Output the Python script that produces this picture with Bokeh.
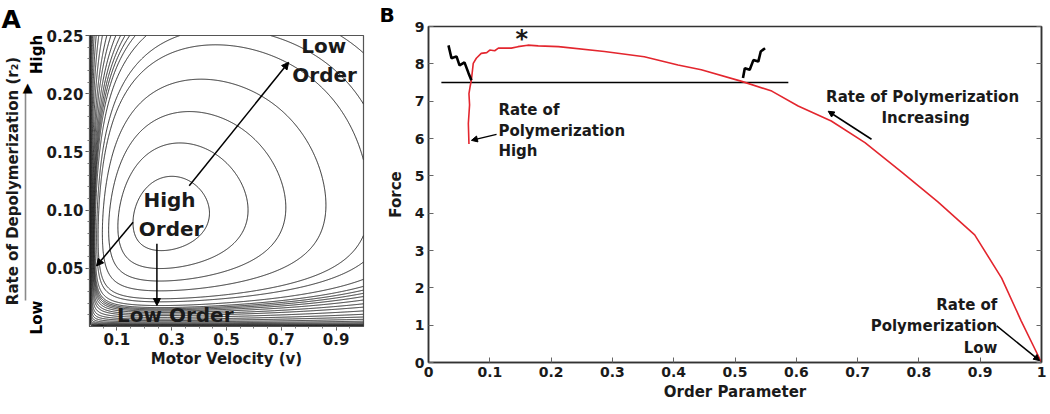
import math
import numpy as np
from bokeh.plotting import figure
from bokeh.layouts import row
from bokeh.models import (Label, Arrow, NormalHead, FixedTicker, LinearAxis,
                          PrintfTickFormatter, CustomJSTickFormatter)
from bokeh.embed import file_html
from bokeh.resources import INLINE

FONT = "DejaVu Sans"

# ---------------- Panel A data ----------------
A_XTICKS = [0.1, 0.3, 0.5, 0.7, 0.9]
A_YTICKS = [0.05, 0.10, 0.15, 0.20, 0.25]
SIDE_TICKS = [0.0077, 0.2337]
SIDE_LABELS = ["Low", "High"]
SIDE_HEAD = 0.2045
SIDE_LINE = (0.0223, 0.2046)
# order-parameter landscape (peak position, widths, wall steepness)
R_PEAK = 0.092
ALPHA_COEF = [0.32, 1.33]
VSTAR_COEF = [0.25, -0.253, 4.53]
WALL_V, WALL_R = 0.004, 0.0012
LEVELS = [-0.087, -0.195, -0.328, -0.488, -0.677, -0.771, -0.91,
          -1.0, -1.06, -1.12, -1.19, -1.28, -1.4, -1.53, -1.72,
          -1.95, -2.2, -2.5, -2.85, -3.25, -3.7, -4.2, -4.8, -5.5, -6.3]

# ---------------- Panel B data ----------------
ORDER = [0.066, 0.065, 0.067, 0.066, 0.068, 0.070, 0.073, 0.078, 0.086, 0.095,
         0.100, 0.108, 0.114, 0.135, 0.146, 0.162, 0.179, 0.212, 0.287, 0.352,
         0.407, 0.445, 0.511, 0.560, 0.603, 0.657, 0.712, 0.772, 0.831, 0.891,
         0.935, 0.967, 0.997, 1.0]
FORCE = [5.85, 6.4, 6.9, 7.2, 7.4, 7.57, 8.01, 8.15, 8.28, 8.30,
         8.37, 8.35, 8.42, 8.42, 8.46, 8.50, 8.48, 8.46, 8.33, 8.19,
         7.97, 7.84, 7.53, 7.27, 6.87, 6.47, 5.89, 5.10, 4.30, 3.42,
         2.26, 1.11, 0.10, 0.0]
HLINE_X = [0.021, 0.587]
HLINE_Y = [7.5, 7.5]
ZIG1_X = [0.0326, 0.0375, 0.0457, 0.0506, 0.0587, 0.0653, 0.070]
ZIG1_Y = [8.495, 8.15, 8.20, 7.96, 8.04, 7.75, 7.56]
ZIG2_X = [0.513, 0.516, 0.524, 0.530, 0.538, 0.542, 0.549]
ZIG2_Y = [7.62, 7.88, 7.84, 8.10, 8.06, 8.33, 8.42]
B_XTICKS = [0, 0.1, 0.2, 0.3, 0.4, 0.5, 0.6, 0.7, 0.8, 0.9, 1]
B_YTICKS = [0, 1, 2, 3, 4, 5, 6, 7, 8, 9]

TXT = "#1a1a1a"


def style_axis(ax, tick_size="15px"):
    ax.major_label_text_font = FONT
    ax.major_label_text_font_style = "bold"
    ax.major_label_text_font_size = tick_size
    ax.major_label_text_color = TXT
    ax.axis_label_text_font = FONT
    ax.axis_label_text_font_style = "bold"
    ax.axis_label_text_font_size = "15px"
    ax.axis_label_text_color = TXT


def bare_axis(ax):
    ax.major_tick_in = 0
    ax.major_tick_out = 0
    ax.minor_tick_in = 0
    ax.minor_tick_out = 0
    ax.major_tick_line_color = None
    ax.minor_tick_line_color = None


# ================= Panel A =================
pA = figure(frame_width=274, frame_height=291, x_range=(0, 1), y_range=(0, 0.25),
            output_backend="svg", toolbar_location=None, frame_align=False,
            min_border_left=88, min_border_right=10, min_border_top=35,
            min_border_bottom=86)
pA.grid.visible = False
pA.outline_line_color = "#555555"
pA.outline_line_width = 1.2
pA.title.text = "A"
pA.title.align = "left"
pA.title.offset = -88
pA.title.standoff = 3
pA.title.text_font = FONT
pA.title.text_font_size = "25px"
pA.title.text_color = "black"

v = np.concatenate([np.linspace(0.0012, 0.05, 260), np.linspace(0.0505, 1.0, 420)])
r = np.concatenate([np.linspace(0.0006, 0.03, 180), np.linspace(0.0302, 0.25, 320)])
V, R = np.meshgrid(v, r)
alpha = ALPHA_COEF[0] + ALPHA_COEF[1] * R
vstar = VSTAR_COEF[0] + VSTAR_COEF[1] * R + VSTAR_COEF[2] * R ** 2
U = V / vstar
W = R / R_PEAK
Z = (alpha * (np.log(U) - U + 1) + (np.log(W) - W + 1)
     - WALL_V / V - WALL_R / R)
pA.contour(v, r, Z, levels=sorted(LEVELS), line_color="#262626", line_width=1.0)

for ax in (pA.xaxis[0], pA.yaxis[0]):
    style_axis(ax)
    ax.axis_line_color = "#555555"
    ax.major_tick_line_color = "#555555"
    ax.minor_tick_line_color = "#777777"
    ax.major_tick_in = 0
    ax.major_tick_out = 4
    ax.minor_tick_in = 0
    ax.minor_tick_out = 2
    ax.major_label_standoff = 2

pA.xaxis[0].ticker = FixedTicker(ticks=A_XTICKS, minor_ticks=list(np.arange(0.05, 1.0, 0.05)))
pA.yaxis[0].ticker = FixedTicker(ticks=A_YTICKS, minor_ticks=list(np.arange(0.01, 0.25, 0.01)))
pA.yaxis[0].formatter = PrintfTickFormatter(format="%.2f")
pA.xaxis[0].axis_label = "Motor Velocity (v)"
pA.xaxis[0].axis_label_standoff = 2

# "Low ... High" side note (tick labels of an extra axis)
side_txt = LinearAxis(ticker=FixedTicker(ticks=SIDE_TICKS, minor_ticks=[]),
                      major_label_overrides=dict(zip(SIDE_TICKS, SIDE_LABELS)),
                      major_label_orientation="parallel")
style_axis(side_txt)
bare_axis(side_txt)
side_txt.axis_line_color = None
side_txt.major_label_standoff = -3
side_txt.major_label_text_color = "black"
pA.add_layout(side_txt, "left")

# gray arrow (bounded axis line + arrowhead glyph) and the axis title
side_line = LinearAxis(ticker=FixedTicker(ticks=[SIDE_HEAD], minor_ticks=[]),
                       major_label_overrides={SIDE_HEAD: "\u25B6"},
                       major_label_orientation="parallel", bounds=SIDE_LINE)
style_axis(side_line)
bare_axis(side_line)
side_line.axis_line_color = "#8a8a8a"
side_line.axis_line_width = 1.6
side_line.major_label_standoff = -9
side_line.major_label_text_color = "black"
side_line.major_label_text_font_size = "13px"
side_line.axis_label = "Rate of Depolymerization (r\u2082)"
side_line.axis_label_standoff = -5
pA.add_layout(side_line, "left")


def lab(p, x, y, text, size="15px", align="left", lift=8):
    p.add_layout(Label(x=x, y=y, text=text, text_font=FONT, text_font_style="bold",
                       text_font_size=size, text_align=align, y_offset=lift,
                       text_baseline="alphabetic", text_color=TXT))


def arrow(p, x0, y0, x1, y1, size=7, width=1.5):
    p.add_layout(Arrow(end=NormalHead(size=size, fill_color="black", line_color="black"),
                       x_start=x0, y_start=y0, x_end=x1, y_end=y1,
                       line_color="black", line_width=width))


lab(pA, 0.292, 0.1014, "High", size="20px", align="center")
lab(pA, 0.298, 0.0765, "Order", size="20px", align="center")
lab(pA, 0.313, 0.0026, "Low Order", size="20px", align="center")
lab(pA, 0.855, 0.2345, "Low", size="20px", align="center")
lab(pA, 0.858, 0.2096, "Order", size="20px", align="center")
arrow(pA, 0.364, 0.121, 0.727, 0.227)
arrow(pA, 0.246, 0.071, 0.246, 0.018)
arrow(pA, 0.159, 0.0896, 0.0255, 0.052)

# ================= Panel B =================
pB = figure(frame_width=613, frame_height=336, x_range=(0, 1), y_range=(0, 9),
            output_backend="svg", toolbar_location=None, frame_align=False,
            min_border_left=55, min_border_right=8, min_border_top=23,
            min_border_bottom=48)
pB.grid.visible = False
pB.outline_line_color = "#333333"
pB.outline_line_width = 1.5
pB.title.text = "B"
pB.title.align = "left"
pB.title.offset = -49
pB.title.standoff = 0
pB.title.text_font = FONT
pB.title.text_font_size = "20px"
pB.title.text_color = "black"

pB.line(HLINE_X, HLINE_Y, line_color="black", line_width=1.5)
pB.line(ORDER, FORCE, line_color="#e3262e", line_width=1.6)
pB.line(ZIG1_X, ZIG1_Y, line_color="black", line_width=2.6)
pB.line(ZIG2_X, ZIG2_Y, line_color="black", line_width=2.6)

pB.below[0].ticker = FixedTicker(ticks=B_XTICKS)
pB.left[0].ticker = FixedTicker(ticks=B_YTICKS)
pB.below[0].major_label_overrides = {0: "0", 1: "1"}
right_ax = LinearAxis(ticker=FixedTicker(ticks=B_YTICKS),
                      formatter=CustomJSTickFormatter(code="return ''"))
pB.add_layout(right_ax, "right")
for ax in (pB.below[0], pB.left[0], right_ax):
    style_axis(ax, "14px")
    ax.axis_line_color = "#333333"
    ax.axis_line_width = 1.5
    ax.major_tick_line_color = "#666666"
    ax.major_tick_in = 5
    ax.major_tick_out = 0
    ax.minor_tick_in = 0
    ax.minor_tick_out = 0
    ax.major_label_standoff = 4
right_ax.major_label_text_font_size = "1px"
right_ax.major_label_standoff = 0
pB.below[0].axis_label = "Order Parameter"
pB.below[0].axis_label_standoff = 3
pB.left[0].axis_label = "Force"
pB.left[0].axis_label_standoff = 7

lab(pB, 0.152, 8.4, "*", size="24px", align="center", lift=10)
lab(pB, 0.114, 6.557, "Rate of")
lab(pB, 0.114, 5.98, "Polymerization")
lab(pB, 0.114, 5.45, "High")
arrow(pB, 0.111, 6.11, 0.070, 5.95, size=6)
lab(pB, 0.806, 6.91, "Rate of Polymerization", align="center")
lab(pB, 0.811, 6.345, "Increasing", align="center")
arrow(pB, 0.7227, 5.98, 0.652, 6.73, size=6)
lab(pB, 0.928, 1.335, "Rate of", align="right")
lab(pB, 0.928, 0.77, "Polymerization", align="right")
lab(pB, 0.928, 0.186, "Low", align="right")
arrow(pB, 0.927, 0.98, 0.997, 0.05, size=6)

layout = row(pA, pB)
open("out.html", "w").write(file_html(layout, INLINE))
